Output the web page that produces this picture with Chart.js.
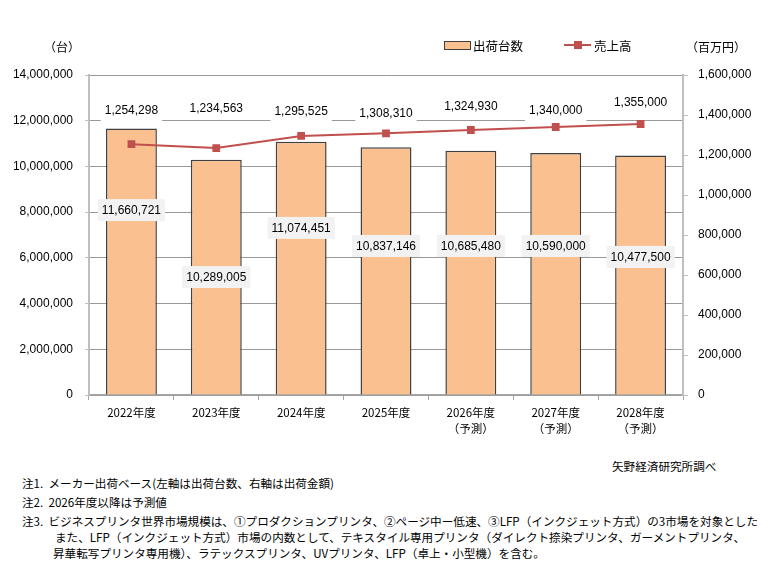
<!DOCTYPE html>
<html>
<head>
<meta charset="utf-8">
<script src="https://cdn.jsdelivr.net/npm/chart.js@4/dist/chart.umd.min.js"></script>
<style>
  body { margin: 0; background: #fff; }
  #wrap { position: relative; width: 768px; height: 577px; overflow: hidden; }
  #c { position: absolute; left: 0; top: 0; }
  .t { position: absolute; white-space: nowrap; font-family: "Noto Sans CJK JP", sans-serif; color: #000; }
  .unit { font-size: 12px; top: 38px; }
  .legend { font-size: 12.5px; top: 36px; }
  .note { font-size: 11.6px; left: 22px; }
</style>
</head>
<body>
<div id="wrap">
  <canvas id="c" width="768" height="451"></canvas>

  <span class="t unit" style="left:44px">（台）</span>
  <span class="t unit" style="left:686px">（百万円）</span>

  <span style="position:absolute;left:444px;top:41px;width:25px;height:7px;background:#FAC090;border:1px solid #404040"></span>
  <span class="t legend" style="left:473px">出荷台数</span>
  <span style="position:absolute;left:564px;top:44px;width:27px;height:2px;background:#C0504D"></span>
  <span style="position:absolute;left:574px;top:41px;width:8px;height:8px;background:#C0504D"></span>
  <span class="t legend" style="left:594px">売上高</span>

  <span class="t note" style="left:612px;top:458px">矢野経済研究所調べ</span>
  <span class="t note" style="top:475px">注1.&nbsp; メーカー出荷ベース(左軸は出荷台数、右軸は出荷金額)</span>
  <span class="t note" style="top:494px">注2.&nbsp; 2026年度以降は予測値</span>
  <span class="t note" style="top:513px">注3.&nbsp; ビジネスプリンタ世界市場規模は、①プロダクションプリンタ、②ページ中ー低速、③LFP（インクジェット方式）の3市場を対象とした</span>
  <span class="t note" style="left:55px;top:529px">また、LFP（インクジェット方式）市場の内数として、テキスタイル専用プリンタ（ダイレクト捺染プリンタ、ガーメントプリンタ、</span>
  <span class="t note" style="left:53px;top:545px">昇華転写プリンタ専用機）、ラテックスプリンタ、UVプリンタ、LFP（卓上・小型機）を含む。</span>
</div>

<script>
// ---------- Data ----------
const years = ["2022年度", "2023年度", "2024年度", "2025年度", "2026年度", "2027年度", "2028年度"];
const forecast = [false, false, false, false, true, true, true];
const units = [11660721, 10289005, 11074451, 10837146, 10685480, 10590000, 10477500]; // 台
const sales = [1254298, 1234563, 1295525, 1308310, 1324930, 1340000, 1355000]; // 百万円

const leftTicks = [0, 2000000, 4000000, 6000000, 8000000, 10000000, 12000000, 14000000];
const rightTicks = [0, 200000, 400000, 600000, 800000, 1000000, 1200000, 1400000, 1600000];

// where the value labels sit (in axis units, as placed in the original)
const unitLabelAt = [8090000, 5160000, 7310000, 6520000, 6520000, 6520000, 6040000];
const salesLabelAt = [1425000, 1435000, 1420000, 1410000, 1445000, 1425000, 1465000];

const labels = years.map((y, i) => (forecast[i] ? [y, "（予測）"] : y));
const fmt = (v) => v.toLocaleString("en-US");

// ---------- Value labels ----------
const valueLabels = {
  id: "valueLabels",
  afterDatasetsDraw(chart) {
    const ctx = chart.ctx;
    const yL = chart.scales.y;
    const yR = chart.scales.y2;
    ctx.save();
    ctx.font = '12px "Liberation Sans", Arial, sans-serif';
    ctx.textAlign = "center";
    ctx.textBaseline = "middle";

    function box(text, x, y, bg) {
      const w = ctx.measureText(text).width + 8;
      const h = 22;
      ctx.fillStyle = bg;
      ctx.fillRect(x - w / 2, y - h / 2, w, h);
      ctx.fillStyle = "#000";
      ctx.fillText(text, x, y + 1);
    }

    chart.getDatasetMeta(1).data.forEach((bar, i) => {
      box(fmt(units[i]), bar.x, yL.getPixelForValue(unitLabelAt[i]), "#f2f2f2");
    });
    chart.getDatasetMeta(0).data.forEach((pt, i) => {
      box(fmt(sales[i]), pt.x, yR.getPixelForValue(salesLabelAt[i]), "#ffffff");
    });
    ctx.restore();
  },
};

Chart.defaults.font.family = '"Liberation Sans", Arial, sans-serif';
Chart.defaults.font.size = 12;
Chart.defaults.color = "#000";

const chart = new Chart(document.getElementById("c"), {
  data: {
    labels: labels,
    datasets: [
      {
        type: "line",
        label: "売上高",
        data: sales,
        yAxisID: "y2",
        borderColor: "#C0504D",
        backgroundColor: "#C0504D",
        borderWidth: 2,
        pointStyle: "rect",
        pointRadius: 5.5,
        pointBackgroundColor: "#C0504D",
        pointBorderWidth: 0,
        order: 0,
      },
      {
        type: "bar",
        label: "出荷台数",
        data: units,
        yAxisID: "y",
        backgroundColor: "#FAC090",
        borderColor: "#404040",
        borderWidth: 1.5,
        barPercentage: 0.6,
        categoryPercentage: 1,
        order: 1,
      },
    ],
  },
  options: {
    responsive: false,
    animation: false,
    layout: { padding: { top: 75, left: 0, right: 0, bottom: 0 } },
    plugins: {
      legend: { display: false },
      tooltip: { enabled: false },
    },
    scales: {
      x: {
        offset: true,
        afterFit: (s) => { s.height = 56; },
        grid: { offset: true, drawOnChartArea: false, tickLength: 5, color: "#a6a6a6" },
        border: { color: "#a6a6a6", width: 1.5 },
        ticks: {
          padding: 4,
          maxRotation: 0,
          font: { family: '"Noto Sans CJK JP", sans-serif', size: 11.5, lineHeight: 1.45 },
        },
      },
      y: {
        position: "left",
        min: 0,
        max: 14000000,
        afterFit: (s) => { s.width = 89; },
        afterBuildTicks: (s) => { s.ticks = leftTicks.map((v) => ({ value: v })); },
        grid: { color: "#999999", tickLength: 4, tickColor: "#bfbfbf" },
        border: { color: "#bfbfbf", width: 2 },
        ticks: { padding: 12, callback: (v) => fmt(v) },
      },
      y2: {
        position: "right",
        min: 0,
        max: 1600000,
        afterFit: (s) => { s.width = 85; },
        afterBuildTicks: (s) => { s.ticks = rightTicks.map((v) => ({ value: v })); },
        grid: { drawOnChartArea: false, tickLength: 5, color: "#bfbfbf" },
        border: { color: "#bfbfbf", width: 2 },
        ticks: { padding: 10, callback: (v) => fmt(v) },
      },
    },
  },
  plugins: [valueLabels],
});
</script>
</body>
</html>
